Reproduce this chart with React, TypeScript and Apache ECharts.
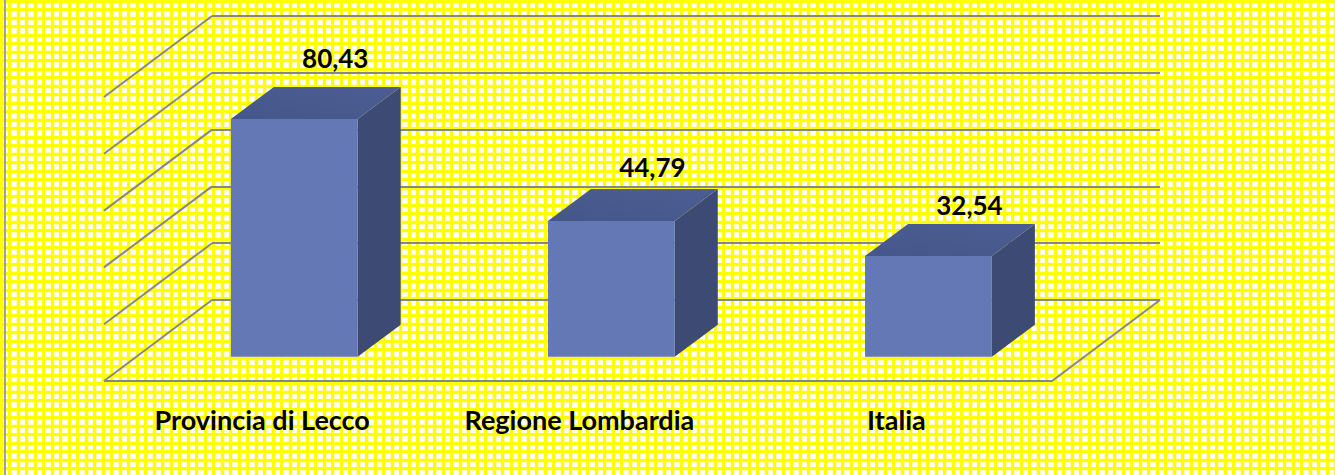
import React, { useEffect, useRef } from "react";
import * as echarts from "echarts";

// ---- data ----
const categories = ["Provincia di Lecco", "Regione Lombardia", "Italia"];
const values = [80.43, 44.79, 32.54];
const wallTicks = [0, 20, 40, 60, 80, 100];

// ---- styling constants ----
const W = 1335;
const H = 475;
const FLOOR_DX = -108; // back wall -> front of floor
const FLOOR_DY = 81;
const BAR_DX = 43; // bar depth
const BAR_DY = -32;
const GRID_LINE = "#878787";
const FONT = "Lato, 'Open Sans', sans-serif";

const fmt = (v: number) => v.toFixed(2).replace(".", ",");

const tileSvg =
  "<svg xmlns='http://www.w3.org/2000/svg' width='8.5' height='8.5' viewBox='0 0 8.5 8.5'>" +
  "<rect width='8.5' height='8.5' fill='#ffff00'/>" +
  "<rect x='2.9' y='2.9' width='5.6' height='5.6' fill='#ffff90'/>" +
  "<rect x='3.3' y='3.3' width='4.8' height='4.8' fill='#ffffff'/>" +
  "</svg>";
const tileUrl = `url("data:image/svg+xml,${encodeURIComponent(tileSvg)}")`;

export default function App() {
  const ref = useRef<HTMLDivElement>(null);

  useEffect(() => {
    if (!ref.current) return;
    const chart = echarts.init(ref.current, undefined, { renderer: "svg" });

    const option: any = {
      animation: false,
      backgroundColor: "transparent",
      grid: [
        { left: 212, top: 16, width: 948, height: 284 }, // back wall
        { left: 135.7, top: 63, width: 951.3, height: 293.7 }, // bars
        { left: 103.7, top: 300, width: 951.3, height: 95 }, // category labels (front of floor)
      ],
      xAxis: [
        { gridIndex: 0, type: "value", min: 0, max: 1, show: false },
        { gridIndex: 1, type: "category", data: categories, show: false },
        {
          gridIndex: 2,
          type: "category",
          data: categories,
          axisLine: { show: false },
          axisTick: { show: false },
          splitLine: { show: false },
          axisLabel: {
            margin: 11,
            color: "#000",
            fontWeight: "bold",
            fontSize: 27,
            fontFamily: FONT,
          },
        },
      ],
      yAxis: [
        {
          gridIndex: 0,
          type: "value",
          min: 0,
          max: 100,
          interval: 20,
          axisLine: { show: false },
          axisTick: { show: false },
          axisLabel: { show: false },
          splitLine: { show: true, lineStyle: { color: GRID_LINE, width: 2 } },
        },
        { gridIndex: 1, type: "value", min: -2.7, max: 100, show: false },
        { gridIndex: 2, type: "value", show: false },
      ],
      graphic: [
        {
          type: "line",
          shape: { x1: 5, y1: 0, x2: 5, y2: H },
          style: { stroke: "#a0a0a0", lineWidth: 2 },
        },
      ],
      series: [
        {
          // left wall diagonals
          type: "custom",
          xAxisIndex: 0,
          yAxisIndex: 0,
          data: wallTicks.map((t) => [0, t]),
          renderItem: (_p: any, api: any) => {
            const p = api.coord([0, api.value(1)]);
            return {
              type: "line",
              shape: { x1: p[0], y1: p[1], x2: p[0] + FLOOR_DX, y2: p[1] + FLOOR_DY },
              style: { stroke: GRID_LINE, lineWidth: 2 },
            };
          },
          z: 1,
        },
        {
          // floor front and right edges
          type: "custom",
          xAxisIndex: 0,
          yAxisIndex: 0,
          data: [[1, 0]],
          renderItem: (_p: any, api: any) => {
            const br = api.coord([1, 0]);
            const bl = api.coord([0, 0]);
            return {
              type: "polyline",
              shape: {
                points: [
                  br,
                  [br[0] + FLOOR_DX, br[1] + FLOOR_DY],
                  [bl[0] + FLOOR_DX, bl[1] + FLOOR_DY],
                ],
              },
              style: { stroke: GRID_LINE, lineWidth: 2, fill: "none" },
            };
          },
          z: 1,
        },
        {
          // 3D bars
          type: "custom",
          xAxisIndex: 1,
          yAxisIndex: 1,
          data: values.map((v, i) => [i, v]),
          renderItem: (params: any, api: any) => {
            const i = api.value(0);
            const v = api.value(1);
            const top = api.coord([i, v]);
            const bw = api.size([1, 0])[0] * 0.4;
            const x0 = top[0] - bw / 2;
            const x1 = top[0] + bw / 2;
            const yt = top[1];
            const yb = params.coordSys.y + params.coordSys.height;
            return {
              type: "group",
              children: [
                {
                  type: "polygon",
                  shape: {
                    points: [
                      [x1, yt],
                      [x1 + BAR_DX, yt + BAR_DY],
                      [x1 + BAR_DX, yb + BAR_DY],
                      [x1, yb],
                    ],
                  },
                  style: { fill: "#3d4a73" },
                },
                {
                  type: "polygon",
                  shape: {
                    points: [
                      [x0, yt],
                      [x1, yt],
                      [x1 + BAR_DX, yt + BAR_DY],
                      [x0 + BAR_DX, yt + BAR_DY],
                    ],
                  },
                  style: {
                    fill: new echarts.graphic.LinearGradient(0, 1, 1, 0, [
                      { offset: 0, color: "#45578a" },
                      { offset: 1, color: "#4b5d92" },
                    ]),
                  },
                },
                {
                  type: "rect",
                  shape: { x: x0, y: yt, width: x1 - x0, height: yb - yt },
                  style: { fill: "#6378b4" },
                },
                {
                  type: "text",
                  x: top[0] + 41,
                  y: yt - 44 - 0.212 * v,
                  style: {
                    text: fmt(v),
                    fill: "#000",
                    fontWeight: "bold",
                    fontSize: 26,
                    fontFamily: FONT,
                    align: "center",
                    verticalAlign: "middle",
                  },
                },
              ],
            };
          },
          z: 5,
        },
      ],
    };

    chart.setOption(option);
    return () => chart.dispose();
  }, []);

  return (
    <div
      ref={ref}
      style={{
        position: "fixed",
        left: 0,
        top: 0,
        width: W,
        height: H,
        backgroundColor: "#ffff00",
        backgroundImage: tileUrl,
        backgroundSize: "8.5px 8.5px",
      }}
    />
  );
}
